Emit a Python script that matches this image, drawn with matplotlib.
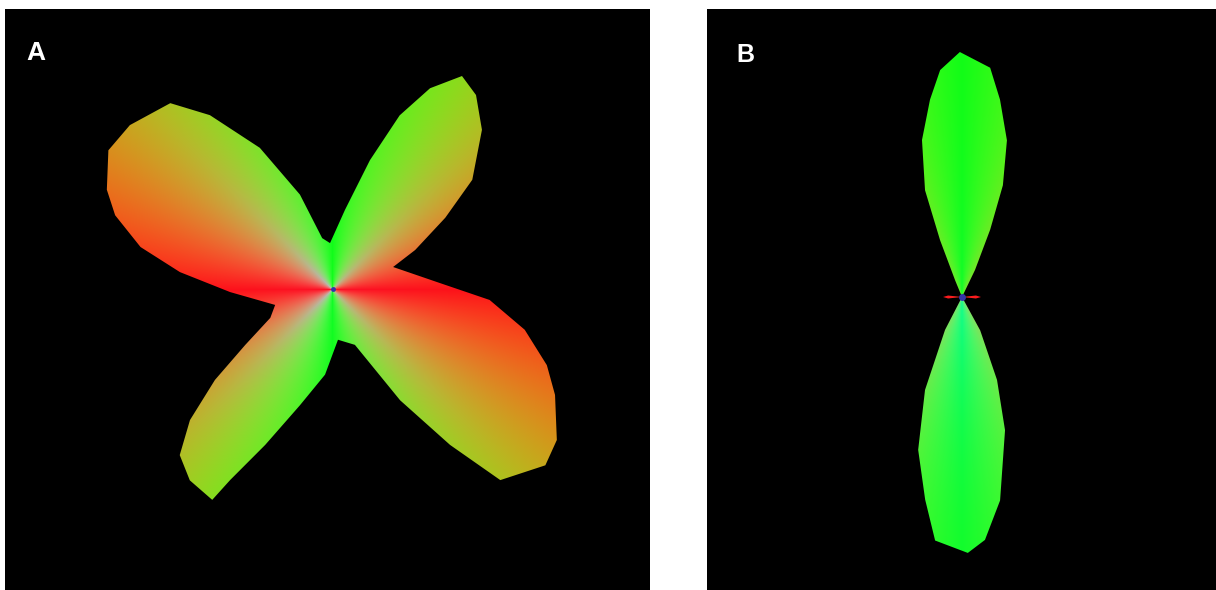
import numpy as np
import matplotlib.pyplot as plt
from matplotlib.patches import Polygon

W, H = 1216, 590

# glyph outlines: polar angle (deg) and radius (px) measured from the glyph centre
a_ang = [-164.6, -155.3, -147.5, -142.4, -137.5, -132.7, -126.8, -119.8, -118.3,
         -113.5, -105.9, -95.3, -84.4, -68.6, -58.9, -53.1, -48.8, -39.7, -34.0,
         -25.5, -19.6, -12.0, -4.0, 3.2, 20.1, 25.4, 32.4, 38.1, 46.9, 53.6, 58.8,
         64.2, 69.0, 74.0, 81.4, 93.7, 102.0, 109.3, 117.4, 125.3, 131.2, 141.1,
         148.3, 156.3, 161.3, 167.7, 173.7, 181.7]
a_rad = [60, 69, 104, 149, 194, 226, 239, 243, 217,
         170, 121, 86, 51, 60, 130, 195, 254, 276, 270,
         246, 227, 196, 157, 107, 64, 91, 133, 177, 218, 241, 249,
         223, 186, 134, 80, 46, 52, 100, 159, 213, 247, 261,
         264, 247, 230, 197, 154, 103]

b_ang = [-180, -174, -168, -117.3, -111.7, -106.0, -100.3, -96.3, -88.7, -84.6,
         -79.4, -72.1, -67.1, -61.4, -58, -12, -6, 0, 6, 12, 60, 64.3, 67.3, 69.9,
         74.0, 79.1, 83.0, 90.5, 95.5, 99.2, 104.3, 109.1, 111.1, 112.4, 116,
         168, 174]
b_rad = [19, 14, 0, 37, 100, 159, 206, 245, 256, 244,
         207, 140, 90, 38, 0, 0, 14, 19, 14, 0, 0, 30, 73, 119,
         163, 201, 231, 245, 228, 200, 162, 113, 61, 18, 0,
         0, 14]

# out-of-plane (blue) share of the colour, by direction
a_blue_ang = [-180, -135, -90, -45, 0, 45, 90, 135, 180]
a_blue_amp = [0.1, 0.7, 0.1, 0.55, 0.1, 0.55, 0.05, 0.7, 0.1]
b_blue_ang = [-180, -135, -90, -45, 0, 45, 90, 135, 180]
b_blue_amp = [0.05, 0.3, 0.55, 0.3, 0.05, 0.15, 0.1, 0.15, 0.05]


def draw_glyph(ax, ang, rad, blue_ang, blue_amp, blue_len, xlim, ylim, dot):
    ax.set_facecolor('black')
    x = np.arange(xlim[0], xlim[1] + 1)
    y = np.arange(ylim[0], ylim[1] + 1)
    X, Y = np.meshgrid(x, y)
    th = np.arctan2(Y, X)
    d = np.hypot(X, Y)
    red = np.abs(np.cos(th))
    green = np.abs(np.sin(th))
    blue = np.interp(np.degrees(th), blue_ang, blue_amp) * np.exp(-d / blue_len)
    rgb = np.stack([red, green, blue], axis=-1)
    rgb = np.clip(0.07 + 0.92 * rgb, 0, 1)
    im = ax.imshow(rgb, extent=(x[0] - .5, x[-1] + .5, y[0] - .5, y[-1] + .5),
                   origin='lower', interpolation='bilinear')
    t = np.radians(ang)
    outline = Polygon(np.column_stack([np.array(rad) * np.cos(t), np.array(rad) * np.sin(t)]),
                      closed=True, fc='none', ec='none', transform=ax.transData)
    ax.add_patch(outline)
    im.set_clip_path(outline)
    ax.plot(0, 0, 'o', ms=dot, color='#3434a8', mec='none')
    ax.set_xlim(xlim)
    ax.set_ylim(ylim)
    ax.set_xticks([])
    ax.set_yticks([])
    for s in ax.spines.values():
        s.set_visible(False)


fig = plt.figure(figsize=(W / 100, H / 100), dpi=100, facecolor='white')
axA = fig.add_axes((5 / W, 0, 645 / W, 581 / H))
axB = fig.add_axes((707 / W, 0, 509 / W, 581 / H))

draw_glyph(axA, a_ang, a_rad, a_blue_ang, a_blue_amp, 110, (-328, 317), (-301, 280), 3.5)
draw_glyph(axB, b_ang, b_rad, b_blue_ang, b_blue_amp, 160, (-255, 254), (-293, 288), 5)

fig.text(26 / W, 1 - 60 / H, 'A', color='white', fontsize=19, fontweight='bold',
         family='Liberation Sans', ha='left', va='baseline')
fig.text(736 / W, 1 - 62 / H, 'B', color='white', fontsize=18, fontweight='bold',
         family='Liberation Sans', ha='left', va='baseline')

fig.savefig('out.png', dpi=100, facecolor='white')
